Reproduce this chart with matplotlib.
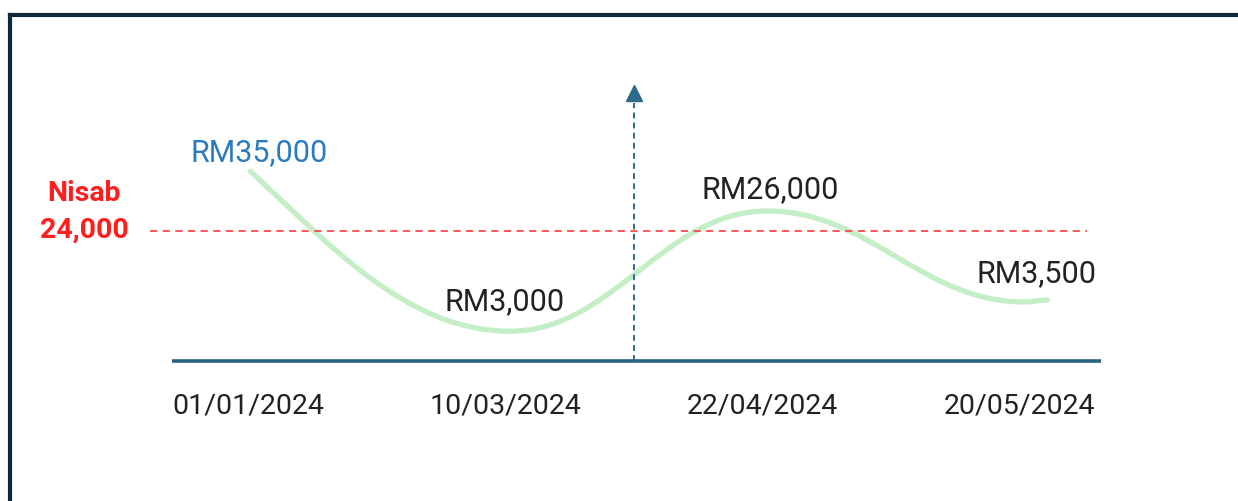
"""Nisab vs. balance timeline sketch (illustrative haul chart)."""
import matplotlib
matplotlib.use("Agg")
import matplotlib.pyplot as plt
from matplotlib.path import Path
from matplotlib.patches import PathPatch
from matplotlib.lines import Line2D

plt.rcParams["font.family"] = ["Roboto", "DejaVu Sans"]

# --- data -------------------------------------------------------------------
dates = ["01/01/2024", "10/03/2024", "22/04/2024", "20/05/2024"]
balances = [35000, 3000, 26000, 3500]
balance_labels = ["RM35,000", "RM3,000", "RM26,000", "RM3,500"]
nisab = 24000
nisab_title = "Nisab"
nisab_value = "24,000"

# the drawn wave is illustrative: its turning points
curve_x = [0.01, 1.02, 2.02, 3.02, 3.11]
curve_y = [35000, 5500, 27700, 10900, 11250]

# --- style -------------------------------------------------------------------
NAVY = "#10293a"
AXIS_BLUE = "#2a6283"
ARROW_BLUE = "#2d6a8c"
GREEN = "#c4eec6"
RED = "#ff1f1f"
RED_LINE = "#ff4a4a"
LABEL_BLUE = "#2b7bbf"
TEXT = "#222222"

# label offsets from the wave turning points, in points
label_off = [(6, 14), (-4, 22), (2, 16), (9, 21)]
label_col = [LABEL_BLUE, TEXT, TEXT, TEXT]


def wave_path(xs, ys):
    """Cubic bezier through the turning points, flat tangents except the start."""
    verts = [(xs[0], ys[0])]
    codes = [Path.MOVETO]
    for i in range(len(xs) - 1):
        x0, y0, x1, y1 = xs[i], ys[i], xs[i + 1], ys[i + 1]
        dx = x1 - x0
        if i == 0:
            c1 = (x0 + 0.30 * dx, y0 + 0.45 * (y1 - y0))
        else:
            c1 = (x0 + 0.40 * dx, y0)
        c2 = (x1 - 0.40 * dx, y1)
        verts += [c1, c2, (x1, y1)]
        codes += [Path.CURVE4] * 3
    return Path(verts, codes)


fig = plt.figure(figsize=(12.38, 5.02), dpi=100)
ax = fig.add_axes([0, 0, 1, 1])
ax.set_xlim(-0.965, 3.852)
ax.set_ylim(-25846, 66830)
ax.axis("off")

# outer frame (left and top edges only are in view)
fig.add_artist(Line2D([10 / 1238, 10 / 1238], [0, 1 - 16 / 502],
                      color=NAVY, lw=3.0, transform=fig.transFigure))
fig.add_artist(Line2D([10 / 1238, 1.0], [1 - 16 / 502, 1 - 16 / 502],
                      color=NAVY, lw=3.0, transform=fig.transFigure))

# baseline
ax.plot([-0.296, 3.32], [0, 0], color=AXIS_BLUE, lw=2.6, solid_capstyle="butt")

# nisab threshold
ax.plot([-0.381, 3.265], [nisab, nisab], color=RED_LINE, lw=1.3,
        linestyle=(0, (4, 3)))
ax.annotate(nisab_value, xy=(-0.381, nisab), xytext=(-47.5, 1.5),
            textcoords="offset points", ha="center", va="center",
            color=RED, fontsize=20.5, fontweight="bold")
ax.annotate(nisab_title, xy=(-0.381, nisab), xytext=(-47.5, 28),
            textcoords="offset points", ha="center", va="center",
            color=RED, fontsize=20.5, fontweight="bold")

# today marker: dashed upward arrow between the middle dates
mid = (len(dates) - 1) / 2
ax.plot([mid, mid], [0, 47600], color=ARROW_BLUE, lw=1.4,
        linestyle=(0, (3, 2.2)))
ax.plot([mid], [49500], marker="^", ms=11, color=ARROW_BLUE, mec=ARROW_BLUE)

# balance wave
ax.add_patch(PathPatch(wave_path(curve_x, curve_y), facecolor="none",
                       edgecolor=GREEN, lw=3.8, capstyle="round"))

# value labels
for i, (lab, off, col) in enumerate(zip(balance_labels, label_off, label_col)):
    ax.annotate(lab, xy=(curve_x[i], curve_y[i]),
                xytext=off, textcoords="offset points", ha="center",
                va="center", color=col, fontsize=22)

# date labels under the baseline
for i, d in enumerate(dates):
    ax.annotate(d, xy=(i, 0), xytext=(0, -32), textcoords="offset points",
                ha="center", va="center", color=TEXT, fontsize=20.5)

fig.savefig("out.png", dpi=100)
